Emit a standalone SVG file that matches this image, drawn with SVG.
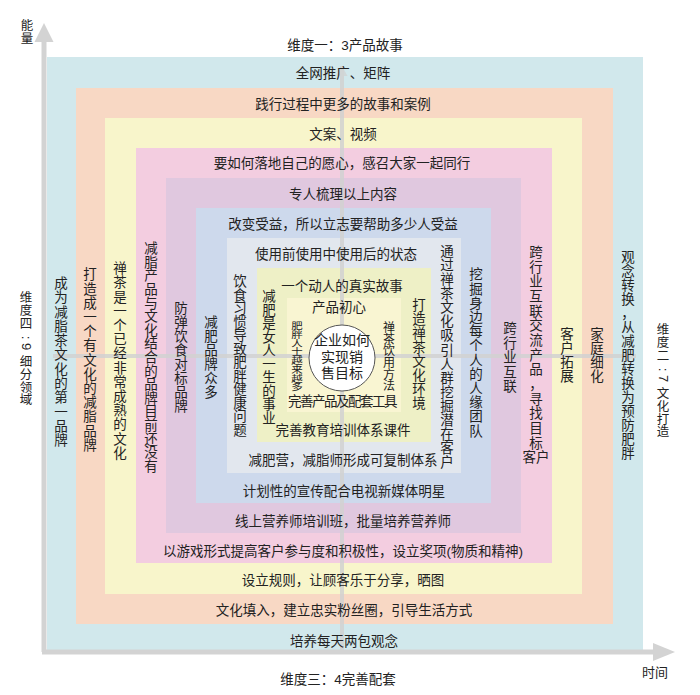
<svg xmlns="http://www.w3.org/2000/svg" width="700" height="695" viewBox="0 0 700 695">
<style>
text{font-family:'Liberation Sans','Noto Sans CJK SC',sans-serif;fill:#222;font-size:13.5px;dominant-baseline:central;text-anchor:middle}
.d{font-size:12.5px}
.ax{stroke:#d3d3d3;stroke-width:5;fill:none}
.cx{stroke:#d2d2d2;stroke-width:4;fill:none;opacity:0.85}
.ah{fill:#d3d3d3}
</style>
<defs>
<marker id="mh" markerUnits="userSpaceOnUse" markerWidth="12" markerHeight="12" refX="10" refY="6" orient="auto">
<path d="M0,0.5 L10,6 L0,11.5 Z" fill="#d2d2d2" opacity="0.85"/>
</marker>
</defs>
<rect width="700" height="695" fill="#fff"/>

<g id="bands">
<rect id="b1" x="47" y="57" width="596" height="593" fill="#d1e8ec"/>
<rect id="b2" x="76" y="88" width="537" height="536" fill="#f8d8c4"/>
<rect id="b3" x="105" y="118" width="477" height="476" fill="#f8f5cb"/>
<rect id="b4" x="136" y="148" width="416" height="415" fill="#f3cde0"/>
<rect id="b5" x="166" y="178" width="355" height="355" fill="#e0c8df"/>
<rect id="b6" x="196" y="208" width="295" height="295" fill="#cdd9ec"/>
<rect id="b7" x="227" y="238" width="234" height="235" fill="#e2e7ee"/>
<rect id="b8" x="257" y="268" width="174" height="174" fill="#eef0c6"/>
<rect id="b9" x="287" y="298" width="114" height="114" fill="#f9f5d2"/>
</g>

<g id="connectors">
<path class="ax" d="M44,652 V40 M42,652 H655"/>
<path class="ah" d="M44,23 L34.5,42 L53.5,42 Z"/>
<path class="ah" d="M675,652 L653,643 L653,661 Z"/>
<path class="cx" d="M342,650 V66" marker-end="url(#mh)"/>
<path class="cx" d="M342,356 H636" marker-end="url(#mh)"/>
<path class="cx" d="M342,356 H53" marker-end="url(#mh)"/>
</g>

<g id="center">
<circle cx="342" cy="358" r="33" fill="#fff" stroke="#555" stroke-width="1"/>
<text x="342" y="340" style="font-size:14px">企业如何</text>
<text x="342" y="357" style="font-size:14px">实现销</text>
<text x="342" y="373" style="font-size:14px">售目标</text>
</g>

<g id="labels-axes">
<text x="345" y="45">维度一：3产品故事</text>
<text x="338" y="679">维度三：4完善配套</text>
<g id="dim4">
<text class="d" x="26 26 26" y="298 311 324">维度四</text>
<text x="26" y="343" transform="rotate(90 26 343)" style="font-size:13px">: 9</text>
<text class="d" x="26 26 26 26" y="362 374.8 387.6 400.4">细分领域</text>
</g>
<g id="dim2">
<text class="d" x="663 663 663" y="329.5 342.5 355.5">维度二</text>
<text x="663" y="375" transform="rotate(90 663 375)" style="font-size:13px">: 7</text>
<text class="d" x="663 663 663 663" y="394 406.8 419.6 432.4">文化打造</text>
</g>
<text class="d" x="27 27" y="26 39">能量</text>
<text x="655" y="672" style="font-size:13px">时间</text>
</g>

<g id="top-texts">
<text x="343" y="73">全网推广、矩阵</text>
<text x="343" y="104">践行过程中更多的故事和案例</text>
<text x="343" y="134">文案、视频</text>
<text x="342" y="163">要如何落地自己的愿心，感召大家一起同行</text>
<text x="343" y="194">专人梳理以上内容</text>
<text x="343" y="224">改变受益，所以立志要帮助多少人受益</text>
<text x="336" y="254">使用前使用中使用后的状态</text>
<text x="342" y="286">一个动人的真实故事</text>
<text x="339" y="307">产品初心</text>
</g>

<g id="bottom-texts">
<text x="342" y="401" style="letter-spacing:-1.5px">完善产品及配套工具</text>
<text x="343" y="430">完善教育培训体系课件</text>
<text x="343" y="460">减肥营，减脂师形成可复制体系</text>
<text x="344" y="491">计划性的宣传配合电视新媒体明星</text>
<text x="343" y="521">线上营养师培训班，批量培养营养师</text>
<text x="343" y="551">以游戏形式提高客户参与度和积极性，设立奖项(物质和精神)</text>
<text x="343" y="580">设立规则，让顾客乐于分享，晒图</text>
<text x="344" y="610">文化填入，建立忠实粉丝圈，引导生活方式</text>
<text x="344" y="641">培养每天两包观念</text>
</g>

<g id="left-texts">
<text x="61 61 61 61 61 61 61 61 61 61 61 61" y="283.4 297.7 312 326.3 340.6 354.9 369.2 383.5 397.8 412.1 426.4 440.7">成为减脂茶文化的第一品牌</text>
<text x="90 90 90 90 90 90 90 90 90 90 90 90 90" y="274.8 289 303.2 317.4 331.6 345.8 360 374.2 388.4 402.6 416.8 431 445.2">打造成一个有文化的减脂品牌</text>
<text x="120 120 120 120 120 120 120 120 120 120 120 120 120 120" y="268.7 282.9 297.1 311.3 325.5 339.7 353.9 368.1 382.3 396.5 410.7 424.9 439.1 453.3">禅茶是一个已经非常成熟的文化</text>
<text x="151 151 151 151 151 151 151 151 151 151 151 151 151 151 151 151 151" y="248.7 262.3 275.9 289.5 303.1 316.7 330.3 343.9 357.5 371.1 384.7 398.3 411.9 425.5 439.1 452.7 466.3">减脂产品与文化结合的品牌目前还没有</text>
<text x="181 181 181 181 181 181 181 181" y="308 322 336 350 364 378 392 406">防弹饮食对标品牌</text>
<text x="211 211 211 211 211 211" y="322.5 336.5 350.5 364.5 378.5 392.5">减肥品牌众多</text>
<text x="240 240 240 240 240 240 240 240 240 240 240 240" y="281.8 295.3 308.8 322.3 335.8 349.3 362.8 376.3 389.8 403.3 416.8 430.3">饮食习惯导致肥胖健康问题</text>
<text x="269 269 269 269 269 269 269 269 269 269" y="296.8 310.3 323.8 337.3 350.8 364.3 377.8 391.3 404.8 418.3">减肥是女人一生的事业</text>
<g transform="translate(297 356.7) scale(1 0.78)">
<text x="0 0 0 0 0 0 0 0" y="-39.2 -28 -16.8 -5.6 5.6 16.8 28 39.2" style="font-size:11.5px">肥胖人士越来越多</text>
</g>
</g>

<g id="right-texts">
<text x="389 389 389 389 389 389" y="327.8 339.5 351.2 362.9 374.6 386.3" style="font-size:12px">禅茶饮用方法</text>
<text x="419 419 419 419 419 419 419 419" y="305 319 333 347 361 375 389 403">打造禅茶文化环境</text>
<text x="447 447 447 447 447 447 447 447 447 447 447 447 447 447 447 447" y="251.3 265.4 279.5 293.6 307.7 321.8 335.9 350 364.1 378.2 392.3 406.4 420.5 434.6 448.7 462.8">通过禅茶文化吸引人群挖掘潜在客户</text>
<text x="476 476 476 476 476 476 476 476 476 476 476 476" y="274.9 289.1 303.3 317.5 331.7 345.9 360.1 374.3 388.5 402.7 416.9 431.1">挖掘身边每个人的人缘团队</text>
<text x="510 510 510 510 510" y="328.5 343 357.5 372 386.5">跨行业互联</text>
<text x="536 536 536 536 536 536 536 536 536 536 536 536 536 536 536" y="252.3 267 281.7 296.3 311 325.7 340.3 355 369.7 384.3 399 413.7 428.3 443 457.7">跨行业互联交流产品，寻找目标客户</text>
<text x="567 567 567 567" y="334 348 362 376">客户拓展</text>
<text x="597 597 597 597" y="334 348 362 376">家庭细化</text>
<text x="628 628 628 628 628 628 628 628 628 628 628 628 628 628 628" y="257 271 285 299 313 327 341 355 369 383 397 411 425 439 453">观念转换，从减肥转换为预防肥胖</text>
</g>
</svg>
